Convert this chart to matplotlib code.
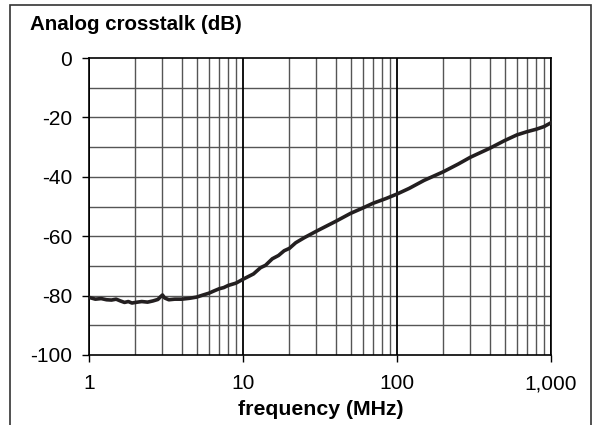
import matplotlib.pyplot as plt
import matplotlib.patches as patches
from matplotlib.ticker import FixedLocator, FuncFormatter

plt.rcParams['font.family'] = ['Liberation Sans', 'DejaVu Sans']
plt.rcParams['axes.unicode_minus'] = False

# crosstalk curve
freq_mhz = [1.0, 1.1, 1.2, 1.3, 1.4, 1.5, 1.6, 1.7, 1.8, 1.9, 2.0, 2.2, 2.4,
            2.6, 2.8, 2.9, 3.0, 3.1, 3.3, 3.6, 4.0, 4.5, 5.0, 5.5, 6.0, 6.5,
            7.0, 7.5, 8.0, 9.0, 10, 11.7, 13, 14, 15.5, 17, 18.5, 20, 22, 25,
            30, 40, 50, 60, 70, 85, 100, 120, 150, 200, 250, 300, 400, 500,
            600, 700, 800, 900, 1000]
crosstalk_db = [-80.6, -81.2, -81.0, -81.4, -81.5, -81.2, -81.8, -82.3, -82.0,
                -82.5, -82.3, -82.0, -82.2, -81.8, -81.3, -80.5, -79.8, -80.8,
                -81.4, -81.2, -81.2, -80.9, -80.5, -79.8, -79.2, -78.4, -77.7,
                -77.3, -76.6, -75.8, -74.5, -72.7, -70.6, -69.8, -67.6, -66.5,
                -64.9, -64.1, -62.2, -60.5, -58.3, -55.0, -52.3, -50.5, -48.9,
                -47.3, -45.8, -43.9, -41.2, -38.3, -35.7, -33.4, -30.4, -27.8,
                -25.9, -24.8, -24.0, -23.1, -21.8]

x_major = [1, 10, 100, 1000]
x_labels = ['1', '10', '100', '1,000']
y_ticks = [0, -20, -40, -60, -80, -100]

fig = plt.figure(figsize=(5.93, 4.25), dpi=100)
ax = fig.add_axes([89/593, 70/425, 462/593, 297/425])

# grid
for v in range(-90, 0, 10):
    ax.axhline(v, color='#555555', lw=1.0, zorder=1)
for dec in [1, 10, 100]:
    for m in range(2, 10):
        ax.axvline(dec*m, color='#555555', lw=1.0, zorder=1)
for xm in x_major:
    ax.axvline(xm, color='black', lw=1.3, zorder=1)

ax.plot(freq_mhz, crosstalk_db, color='#231f20', lw=2.6, zorder=3)

ax.set_xscale('log')
ax.set_xlim(1, 1000)
ax.set_ylim(-100, 0)
ax.xaxis.set_major_locator(FixedLocator(x_major))
ax.xaxis.set_minor_locator(FixedLocator([]))
ax.xaxis.set_major_formatter(FuncFormatter(lambda v, p: x_labels[x_major.index(round(v))] if round(v) in x_major else ''))
ax.set_yticks(y_ticks)
ax.set_yticklabels([str(v) for v in y_ticks])
ax.tick_params(axis='x', length=5, width=1, pad=9, labelsize=15)
ax.tick_params(axis='y', length=5, width=1, pad=7, labelsize=15)
for s in ax.spines.values():
    s.set_color('black')
    s.set_linewidth(1.2)

fig.text(30/593, 1 - 30/425, 'Analog crosstalk (dB)', fontsize=14.8,
         fontweight='bold', va='baseline', ha='left')
fig.text(321/593, 1 - 415/425, 'frequency (MHz)', fontsize=15.3,
         fontweight='bold', va='baseline', ha='center')

# outer frame
fig.patches.append(patches.Rectangle((10/593, -0.1), 581/593, 1.1 - 5/425,
                                     transform=fig.transFigure, fill=False,
                                     edgecolor='#333333', lw=1.2))

fig.savefig('out.png', dpi=100)
